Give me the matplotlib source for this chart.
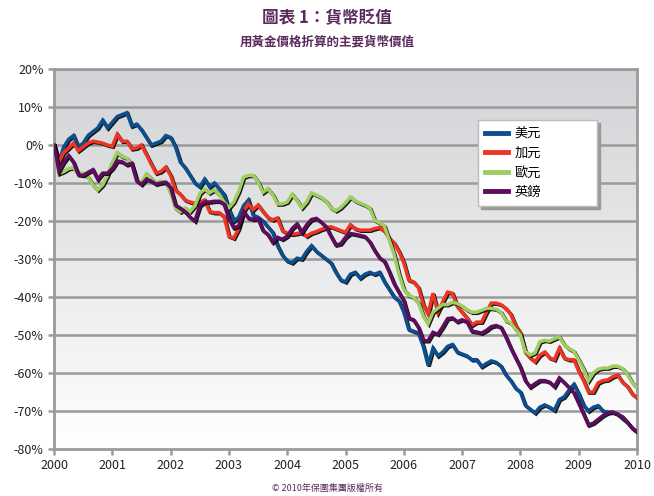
import numpy as np
import matplotlib
matplotlib.use("Agg")
import matplotlib.pyplot as plt
import matplotlib.patheffects as pe

plt.rcParams['font.family'] = ['Noto Sans CJK TC', 'DejaVu Sans']

# ── Datos (mensual, ene-2000 .. ene-2010, % vs oro) ───────────────────────────
usd = [0, -4.5, -0.5, 1.5, 2.5, -0.5, 0.5, 2.5, 3.5, 4.5, 6.5, 4.5, 6, 7.5, 8, 8.5, 5,
       5.5, 4, 2, 0, 0.5, 1, 2.5, 2, -0.5, -4.5, -6, -8, -10, -11, -9, -11, -10, -11.5,
       -13, -17, -20, -19, -16, -14.5, -18.5, -19, -20, -21.5, -23, -26.5, -29, -30.5,
       -31, -29.8, -30, -28, -26.5, -28, -29, -30, -31, -33.5, -35.5, -36, -34, -33.5,
       -35, -34, -33.5, -34, -33.5, -36, -38, -40, -41, -44, -48.5, -49, -49.5, -53,
       -58, -53.5, -55.5, -54.5, -53, -52.5, -54.5, -55, -55.5, -56.5, -56.5, -58.3,
       -57.5, -56.8, -57.2, -58.2, -60.5, -62, -64, -65, -68.5, -69.5, -70.5, -69,
       -68.4, -69, -69.8, -67, -66.3, -64.5, -63, -65.5, -68.5, -70, -69, -68.6, -70,
       -70.3, -70.3, -70.8, -72, -73, -74.5, -75.5]
cad = [0, -4.5, -2, -0.8, 0.5, -1.5, -0.5, 0.5, 1, 0.8, 0.5, 0, -0.3, 2.8, 1, 1, -1,
       -0.8, 0, -2.5, -5, -7.4, -7, -5.8, -8, -11.8, -13, -14.5, -15, -15.3, -15, -14.5,
       -17.5, -17.8, -17.8, -18.8, -24, -24.5, -22, -17.5, -15.5, -17, -15.8, -17.5,
       -19, -19.7, -19.2, -22.5, -23.2, -23.5, -23.3, -23, -24, -23.2, -22.8, -22.2,
       -21.8, -21.5, -22, -22.5, -23, -21, -22, -22.4, -22.4, -22.4, -22, -21.7, -22.6,
       -24.5, -25.8, -28, -31, -35.5, -36, -37.5, -42, -44.5, -39, -44, -41.3, -38.7,
       -39, -42.5, -44, -45.5, -47.4, -46.6, -46.6, -44, -41.6, -41.6, -42, -43, -44.5,
       -47.5, -49.5, -54.5, -56, -57, -55.3, -54.5, -56, -56.5, -53.5, -56, -56.5,
       -56.5, -59.5, -62, -65, -65, -62.6, -62, -61.8, -61, -60.5, -62.4, -63.5, -65.5,
       -66.5]
eur = [0, -7.5, -7, -6.2, -6, -7.4, -7.4, -8.5, -10.5, -11.8, -10.5, -8, -4.5, -2, -3,
       -3.5, -5, -9, -10, -7.6, -8.8, -10, -9.5, -9.8, -12.6, -16.6, -17.6, -16.6, -17.5,
       -16, -12.8, -11.6, -12.6, -11.8, -13, -15, -16.5, -15, -12.3, -8.5, -8, -8, -9.7,
       -12.5, -11.5, -13, -15.5, -15.5, -15, -13, -14.5, -16.5, -15, -12.6, -13.2, -13.8,
       -14.8, -16.5, -17.3, -16.5, -15.2, -13.7, -14.7, -15.3, -15.8, -16.6, -19.8,
       -20.5, -21.3, -25, -28.8, -34, -38, -39.5, -40.1, -41.5, -45, -47, -44, -43, -42,
       -42, -41.4, -41.7, -42.4, -43.4, -44, -44, -43.5, -43, -43, -43.2, -44, -46.2,
       -46.8, -48.5, -50, -54.3, -55.3, -54.7, -51.8, -51.4, -51.6, -51, -50.5, -52.5,
       -53.6, -54.3, -56.5, -59, -62, -60, -59, -58.7, -58.7, -58.2, -58.2, -58.8,
       -60.3, -62.5, -63.8]
gbp = [0, -6.8, -4.5, -2.8, -4.5, -7.8, -8, -7.2, -6.5, -9, -7.4, -7.4, -6.2, -4.2,
       -4.4, -5.2, -4.8, -9.4, -10.4, -9, -9.5, -10.3, -10, -9.8, -11.2, -15.8, -16.6,
       -17.6, -19, -20, -16, -15, -15, -14.8, -14.8, -15.5, -19.5, -21.8, -21.3, -17.5,
       -19.2, -19.6, -19.4, -22.5, -23.5, -25.6, -24.3, -24.8, -24, -22, -20.8, -23, -21,
       -19.6, -19.3, -20.3, -21.5, -24, -26.3, -26, -24.3, -23.3, -23.5, -23.8, -24.1,
       -25.5, -27.8, -29.7, -30.6, -33.4, -36.5, -38.8, -41, -45.5, -46, -48, -51.5,
       -51.5, -49.3, -49.8, -47.9, -45.7, -45.5, -46.5, -46, -46.5, -49, -49.2, -49.5,
       -48.8, -47.8, -47.5, -48, -50.5, -53.4, -56, -58.5, -62, -63.7, -62.8, -62, -62,
       -62.4, -63.6, -61.3, -62.5, -63.8, -65.2, -68, -70.8, -73.7, -73.2, -72.2, -71.2,
       -70.5, -70.3, -70.8, -71.5, -72.9, -74.5, -75.5]

series = [("美元", usd, "#0b4f8e"), ("加元", cad, "#ee3524"),
          ("歐元", eur, "#9fcd5f"), ("英鎊", gbp, "#5f0c5f")]
years = list(range(2000, 2011))
months = 2000 + np.arange(len(usd)) / 12.0

# ── Figura ────────────────────────────────────────────────────────────────────
fig = plt.figure(figsize=(6.54, 4.96), dpi=100)
fig.patch.set_facecolor("white")
ax = fig.add_axes([0.0826, 0.0948, 0.8914, 0.766])

# Fondo degradado gris -> blanco
grad = np.linspace(0, 1, 256).reshape(-1, 1)
ax.imshow(grad, extent=[2000, 2010, -80, 20], aspect="auto", origin="upper",
          cmap=matplotlib.colors.LinearSegmentedColormap.from_list(
              "bg", ["#d2d3d6", "#ffffff"]), zorder=0)

for yv in range(-70, 21, 10):
    ax.axhline(yv, color="#9a9a9a", lw=1.8, zorder=1)

shadow = [pe.SimpleLineShadow(offset=(0.8, -0.8), shadow_color="black", alpha=0.9),
          pe.Normal()]
for name, vals, col in series:
    ax.plot(months, vals, color=col, lw=2.5, label=name, zorder=3,
            solid_joinstyle="miter", path_effects=shadow)

ax.set_xlim(2000, 2010)
ax.set_ylim(-80, 20)
ax.set_xticks(years)
ax.set_xticklabels([str(y) for y in years])
ax.set_yticks(range(-80, 21, 10))
ax.set_yticklabels([f"{v}%" for v in range(-80, 21, 10)])
ax.tick_params(axis="both", colors="#9a9a9a", width=1.8, length=4,
               labelcolor="#222222", labelsize=9)
for sp in ax.spines.values():
    sp.set_color("#9a9a9a")
    sp.set_linewidth(2)

# Leyenda: caja ancha con sombra gris
leg = ax.legend(loc="upper left", bbox_to_anchor=(0.727, 0.866, 0.204, 0.0),
                mode="expand", borderaxespad=0, fontsize=9.5, frameon=True,
                fancybox=False, shadow={"color": "#9a9a9a", "alpha": 1},
                edgecolor="#bbbbbb", framealpha=1, handlelength=1.7,
                labelspacing=0.5, borderpad=0.55, handletextpad=0.5)
for h in leg.get_lines():
    h.set_linewidth(3.5)
    h.set_path_effects([pe.Normal()])
leg.set_zorder(5)

tc = "#5b2a5d"
fig.text(0.5, 0.963, "圖表 1：貨幣貶值", ha="center", va="center", fontsize=12,
         fontweight="bold", color=tc)
fig.text(0.5, 0.915, "用黃金價格折算的主要貨幣價值", ha="center", va="center",
         fontsize=9, fontweight="bold", color=tc)
fig.text(0.5, 0.016, "© 2010年保圍集團版權所有", ha="center", va="center",
         fontsize=6.5, color=tc)

fig.savefig("out.png", dpi=100, facecolor="white")
